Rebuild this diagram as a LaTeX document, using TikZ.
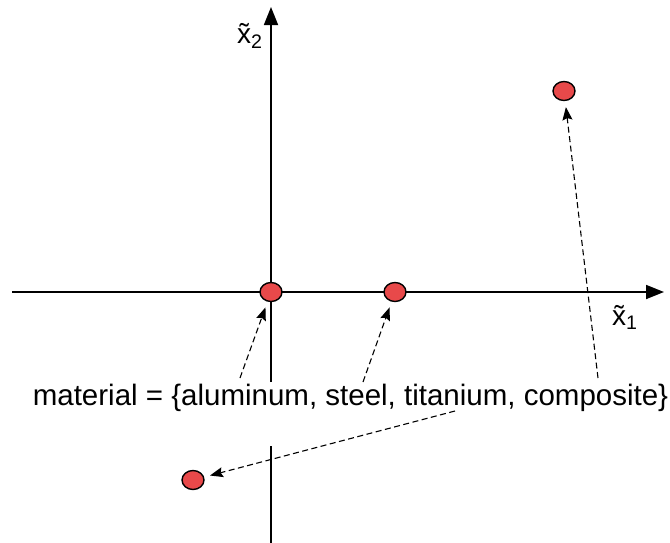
\documentclass[tikz,border=0pt]{standalone}
\usepackage{fontspec}
\setmainfont{Liberation Sans}
\usetikzlibrary{arrows.meta,shapes.geometric}
\definecolor{dotred}{HTML}{E8494A}

\begin{document}
\begin{tikzpicture}[x=1pt,y=-1pt,
    axisline/.style={line width=1.8pt},
    axis/.style={axisline, -{Triangle[length=18pt,width=14pt]}},
    ptr/.style={dash pattern=on 6pt off 3.5pt, line width=1.1pt,
                -{Stealth[length=13pt,width=10pt,inset=2pt]}, shorten >=6pt},
    dot/.style={ellipse, draw, line width=1.4pt, fill=dotred, inner sep=0pt,
                minimum width=22pt, minimum height=19pt},
    lbl/.style={font=\fontsize{28}{32}\selectfont, inner sep=0pt, anchor=base west}
  ]
  \useasboundingbox (0,0) rectangle (670,542);

  % axes
  \coordinate (xlo) at (12,292);
  \coordinate (xhi) at (664,292);
  \coordinate (ybot) at (271,545);
  \coordinate (ygapb) at (271,446);
  \coordinate (ygapt) at (271,382);
  \coordinate (ytop) at (271,7);
  \draw[axis] (xlo) -- (xhi);
  \draw[axisline] (ybot) -- (ygapb);
  \draw[axis] (ygapt) -- (ytop);
  \node[lbl] (x1lab) at (612,325) {\~{x}\textsubscript{1}};
  \node[lbl] (x2lab) at (237,43) {\~{x}\textsubscript{2}};

  % material levels
  \node[dot] (alu) at (271,292) {};
  \node[dot] (steel) at (395,292) {};
  \node[dot] (comp) at (564,91) {};
  \node[dot] (tita) at (193,480) {};

  \node[font=\fontsize{29.5}{34}\selectfont, inner sep=0pt, anchor=base] (mat) at (350.5,405)
    {material = \{aluminum, steel, titanium, composite\}};

  \coordinate (fromalu) at (240,378);
  \coordinate (fromsteel) at (363,382);
  \coordinate (fromcomp) at (598,378);
  \coordinate (fromtita) at (455,411);
  \draw[ptr] (fromalu) -- (alu);
  \draw[ptr] (fromsteel) -- (steel);
  \draw[ptr] (fromcomp) -- (comp);
  \draw[ptr] (fromtita) -- (tita);
\end{tikzpicture}
\end{document}
